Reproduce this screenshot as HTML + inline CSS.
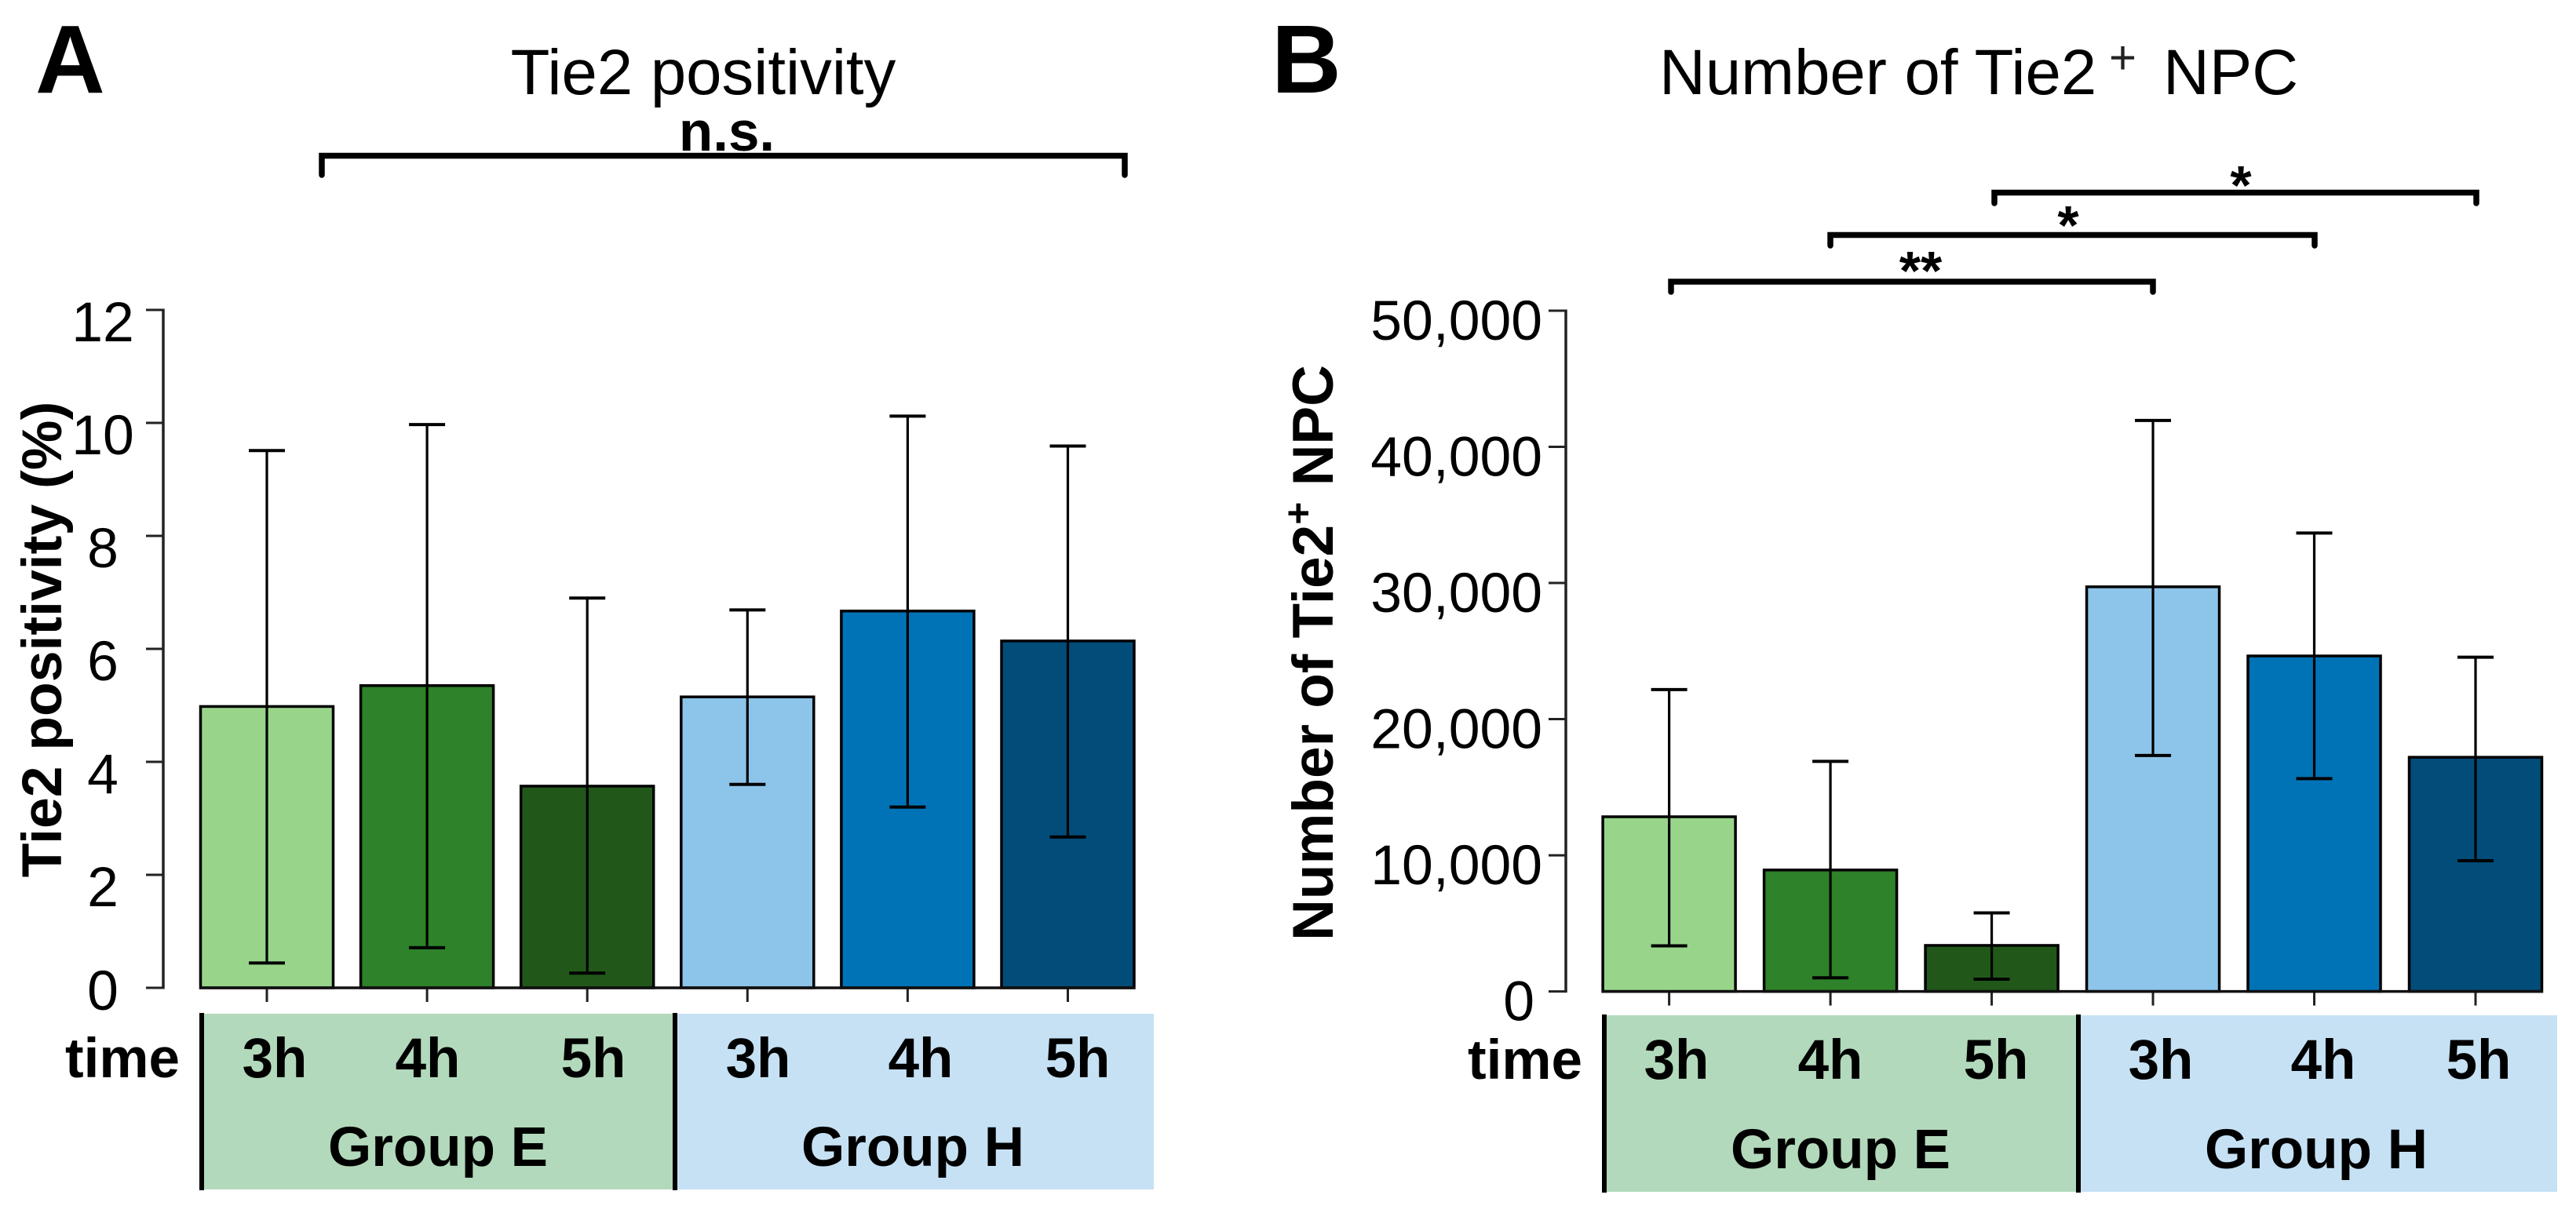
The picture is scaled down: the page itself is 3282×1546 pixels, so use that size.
<!DOCTYPE html>
<html lang="en">
<head>
<meta charset="utf-8">
<title>Tie2 positivity and number of Tie2+ NPC</title>
<style>
html,body{margin:0;padding:0;background:#fff;width:3282px;height:1546px;overflow:hidden}
svg{display:block}
text{font-family:"Liberation Sans",Arial,sans-serif;fill:#000}
.b{font-weight:bold}
</style>
</head>
<body>
<svg id="figure" xmlns="http://www.w3.org/2000/svg" width="3282" height="1546" viewBox="0 0 3282 1546">
<rect x="0" y="0" width="3282" height="1546" fill="#fff"/>

<!-- Panel A static -->
<g id="panel-a">
<text class="b" x="45" y="118" font-size="123">A</text>
<text x="896" y="120" font-size="81.5" text-anchor="middle">Tie2 positivity</text>
<text class="b" x="926" y="192" font-size="71" text-anchor="middle">n.s.</text>
<path d="M410 223V198.5H1433V223" fill="none" stroke="#000" stroke-width="7.5" stroke-linecap="round"/>
<text class="b" font-size="71.5" text-anchor="middle" transform="translate(78 815) rotate(-90)">Tie2 positivity (%)</text>
<rect x="257" y="1292" width="603" height="224" fill="#b2d9bb"/>
<rect x="860" y="1292" width="610" height="224" fill="#c6e1f4"/>
<rect x="254" y="1291" width="6" height="226" fill="#000"/>
<rect x="857" y="1291" width="6" height="226" fill="#000"/>
<g class="b" font-size="71" text-anchor="middle">
<text x="156" y="1373">time</text>
<text x="350" y="1373">3h</text>
<text x="545" y="1373">4h</text>
<text x="756" y="1373">5h</text>
<text x="966" y="1373">3h</text>
<text x="1173" y="1373">4h</text>
<text x="1373" y="1373">5h</text>
<text x="558" y="1486">Group E</text>
<text x="1163" y="1486">Group H</text>
</g>
</g>

<!-- Panel B static -->
<g id="panel-b">
<text class="b" x="1620" y="118" font-size="123">B</text>
<text y="120" font-size="81.5"><tspan x="2114">Number of Tie2</tspan><tspan x="2687" y="94" font-size="60" fill="#222">+</tspan><tspan x="2756" y="120">NPC</tspan></text>
<path d="M2129 372V359H2743V372" fill="none" stroke="#000" stroke-width="7.5" stroke-linecap="round"/>
<path d="M2332 313V299.5H2949V313" fill="none" stroke="#000" stroke-width="7.5" stroke-linecap="round"/>
<path d="M2541 259V245.5H3155V259" fill="none" stroke="#000" stroke-width="7.5" stroke-linecap="round"/>
<g class="b" font-size="70" text-anchor="middle">
<text x="2447" y="369">**</text>
<text x="2635" y="311">*</text>
<text x="2855" y="260">*</text>
</g>
<text class="b" font-size="73" text-anchor="middle" transform="translate(1698 832) rotate(-90)">Number of Tie2<tspan dy="-27" font-size="50">+</tspan><tspan dy="27"> NPC</tspan></text>
<rect x="2044" y="1294" width="604" height="225" fill="#b2d9bb"/>
<rect x="2648" y="1294" width="610" height="225" fill="#c6e1f4"/>
<rect x="2041" y="1293" width="6" height="227" fill="#000"/>
<rect x="2645" y="1293" width="6" height="227" fill="#000"/>
<g class="b" font-size="71" text-anchor="middle">
<text x="1943" y="1375">time</text>
<text x="2136" y="1375">3h</text>
<text x="2332" y="1375">4h</text>
<text x="2543" y="1375">5h</text>
<text x="2753" y="1375">3h</text>
<text x="2960" y="1375">4h</text>
<text x="3158" y="1375">5h</text>
<text x="2345" y="1489">Group E</text>
<text x="2951" y="1489">Group H</text>
</g>
</g>
</svg>

<script>
// Chart data
const categories = ['E 3h', 'E 4h', 'E 5h', 'H 3h', 'H 4h', 'H 5h'];

const tieMeans = [4.98, 5.35, 3.57, 5.15, 6.67, 6.14];
const tieUpper = [9.51, 9.97, 6.90, 6.69, 10.12, 9.59];
const tieLower = [0.44, 0.71, 0.26, 3.60, 3.20, 2.67];
const tieTicks = [0, 2, 4, 6, 8, 10, 12];

const npcMeans = [12830, 8920, 3380, 29720, 24640, 17200];
const npcUpper = [22170, 16900, 5770, 41940, 33670, 24550];
const npcLower = [3350, 1000, 900, 17330, 15630, 9600];
const npcTicks = [0, 10000, 20000, 30000, 40000, 50000];

const barFills = ['#98d58a', '#2e8229', '#21581a', '#8dc4ea', '#0073b7', '#024c7a'];

const SVG_NS = 'http://www.w3.org/2000/svg';

function linear(domain0, domain1, range0, range1) {
  return function (v) {
    return range0 + (v - domain0) * (range1 - range0) / (domain1 - domain0);
  };
}

function shape(parent, tag, attrs) {
  const el = document.createElementNS(SVG_NS, tag);
  for (const key in attrs) el.setAttribute(key, attrs[key]);
  parent.appendChild(el);
  return el;
}

function drawPanel(opts) {
  const parent = document.getElementById(opts.parentId);
  const y = opts.yScale;
  const y0 = y(0);
  const xAt = opts.xScale;
  const lastIndex = categories.length - 1;

  const axisTop = y(opts.ticks[opts.ticks.length - 1]);
  const axisLine = shape(parent, 'line', { x1: opts.axisX, x2: opts.axisX, y1: axisTop - 1.5, y2: y0 + 1.5, stroke: '#222', 'stroke-width': 3.5 });
  
  

  opts.ticks.forEach(function (t) {
    const tick = shape(parent, 'line', { x1: opts.axisX - 22, x2: opts.axisX, y1: y(t), y2: y(t), stroke: '#222', 'stroke-width': 3 });
    
    

    const label = shape(parent, 'text', { x: opts.labelX(t), y: opts.labelY(t), 'font-size': 71.5, 'text-anchor': opts.labelAnchor });
    
    
    label.textContent = opts.format(t);
  });

  categories.forEach(function (cat, i) {
    const cx = xAt(i);

    const xTick = shape(parent, 'line', { x1: cx, x2: cx, y1: y0, y2: y0 + 18, stroke: '#222', 'stroke-width': 3 });
    
    

    const top = y(opts.means[i]);
    const bar = shape(parent, 'rect', { x: cx - 84.5, y: top, width: 169, height: y0 - top, fill: barFills[i], stroke: '#000', 'stroke-width': 3.5 });
    
    

    const whisker = shape(parent, 'line', { x1: cx, x2: cx, y1: y(opts.upper[i]), y2: y(opts.lower[i]), stroke: '#000', 'stroke-width': 3.2 });
    
    

    const capTop = shape(parent, 'line', { x1: cx - 23, x2: cx + 23, y1: y(opts.upper[i]), y2: y(opts.upper[i]), stroke: '#000', 'stroke-width': 4 });
    
    

    const capLow = shape(parent, 'line', { x1: cx - 23, x2: cx + 23, y1: y(opts.lower[i]), y2: y(opts.lower[i]), stroke: '#000', 'stroke-width': 4 });
    
    
  });

  const baseline = shape(parent, 'line', { x1: xAt(0) - 86, x2: xAt(lastIndex) + 86, y1: y0, y2: y0, stroke: '#111', 'stroke-width': 3.5 });
  
  
}

const tieY = linear(0, 12, 1259, 395);
const npcY = linear(0, 50000, 1263.6, 396);

drawPanel({
  parentId: 'panel-a',
  prefix: 'panel-a',
  means: tieMeans,
  upper: tieUpper,
  lower: tieLower,
  ticks: tieTicks,
  axisX: 208,
  xScale: linear(0, 5, 340, 1360.5),
  yScale: tieY,
  labelX: function () { return 131; },
  labelY: function (t) { return t === 0 ? tieY(t) + 28 : tieY(t) + 40; },
  labelAnchor: 'middle',
  format: function (t) { return String(t); }
});

drawPanel({
  parentId: 'panel-b',
  prefix: 'panel-b',
  means: npcMeans,
  upper: npcUpper,
  lower: npcLower,
  ticks: npcTicks,
  axisX: 1995,
  xScale: linear(0, 5, 2126.6, 3154),
  yScale: npcY,
  labelX: function (t) { return t === 0 ? 1955 : 1965; },
  labelY: function (t) { return npcY(t) + 37; },
  labelAnchor: 'end',
  format: function (t) { return t.toLocaleString('en-US'); }
});
</script>
</body>
</html>
